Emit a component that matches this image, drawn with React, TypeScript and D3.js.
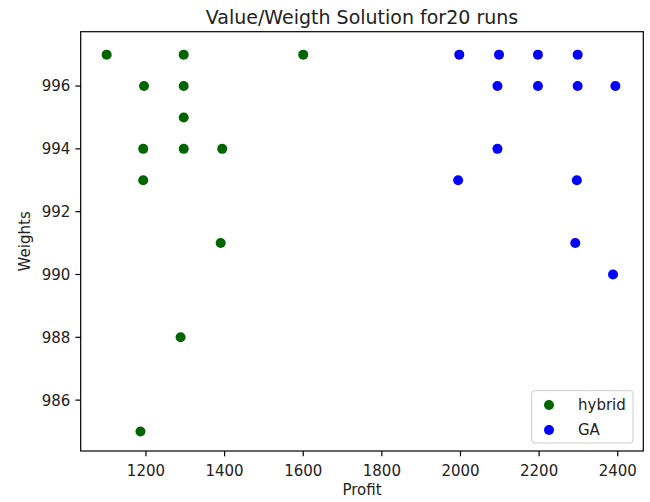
import React from "react";
import * as d3 from "d3";

// Profit / weight of the best solution found in each run
const hybridProfit = [1100, 1296, 1600, 1195, 1296, 1296, 1193, 1296, 1394, 1193, 1390, 1288, 1186];
const hybridWeight = [997, 997, 997, 996, 996, 995, 994, 994, 994, 993, 991, 988, 985];

const gaProfit = [1997, 2098, 2197, 2298, 2094, 2197, 2298, 2394, 2094, 1994, 2296, 2292, 2388];
const gaWeight = [997, 997, 997, 997, 996, 996, 996, 996, 994, 993, 993, 991, 990];

const xTicks = [1200, 1400, 1600, 1800, 2000, 2200, 2400];
const yTicks = [986, 988, 990, 992, 994, 996];

const seriesNames = ["hybrid", "GA"];
const seriesColors = ["#006400", "#0000ff"];

const W = 650;
const H = 502;
const left = 80.7;
const right = 643.3;
const top = 31.7;
const bottom = 451;
const font = "DejaVu Sans, sans-serif";

export default function App() {
  const x = d3.scaleLinear().domain([1034, 2465]).range([left, right]);
  const y = d3.scaleLinear().domain([984.38, 997.73]).range([bottom, top]);

  const series = [
    { name: seriesNames[0], color: seriesColors[0], xs: hybridProfit, ys: hybridWeight },
    { name: seriesNames[1], color: seriesColors[1], xs: gaProfit, ys: gaWeight },
  ];

  const r = 5;
  const tickLen = 5.3;

  return (
    <svg
      width={W}
      height={H}
      style={{ position: "absolute", left: 0, top: 0, background: "#fff" }}
      fontFamily={font}
    >
      <rect x={0} y={0} width={W} height={H} fill="#fff" />

      {/* points */}
      {series.map((s) =>
        s.xs.map((v, i) => (
          <circle key={s.name + i} cx={x(v)} cy={y(s.ys[i])} r={r} fill={s.color} />
        ))
      )}

      {/* spines */}
      <rect
        x={left}
        y={top}
        width={right - left}
        height={bottom - top}
        fill="none"
        stroke="#000"
        strokeWidth={1.2}
      />

      {/* x axis */}
      {xTicks.map((t) => (
        <g key={"x" + t}>
          <line x1={x(t)} x2={x(t)} y1={bottom} y2={bottom + tickLen} stroke="#000" strokeWidth={1.2} />
          <text x={x(t)} y={475.5} textAnchor="middle" fontSize={15} fill="#222">
            {t}
          </text>
        </g>
      ))}

      {/* y axis */}
      {yTicks.map((t) => (
        <g key={"y" + t}>
          <line x1={left - tickLen} x2={left} y1={y(t)} y2={y(t)} stroke="#000" strokeWidth={1.2} />
          <text x={left - tickLen - 5} y={y(t)} dy="0.36em" textAnchor="end" fontSize={15} fill="#222">
            {t}
          </text>
        </g>
      ))}

      {/* labels */}
      <text x={(left + right) / 2} y={495} textAnchor="middle" fontSize={15} fill="#222">
        Profit
      </text>
      <text
        transform={`translate(30,${(top + bottom) / 2}) rotate(-90)`}
        textAnchor="middle"
        fontSize={15}
        fill="#222"
      >
        Weights
      </text>
      <text x={(left + right) / 2} y={24} textAnchor="middle" fontSize={19} fill="#222">
        Value/Weigth Solution for20 runs
      </text>

      {/* legend */}
      <rect
        x={531.7}
        y={390.7}
        width={101.3}
        height={52.3}
        rx={3}
        fill="#fff"
        fillOpacity={0.8}
        stroke="#ccc"
        strokeWidth={1}
      />
      {series.map((s, i) => (
        <g key={"leg" + s.name}>
          <circle cx={549} cy={405 + i * 25} r={r} fill={s.color} />
          <text x={578} y={405 + i * 25} dy="0.36em" fontSize={15} fill="#222">
            {s.name}
          </text>
        </g>
      ))}
    </svg>
  );
}
